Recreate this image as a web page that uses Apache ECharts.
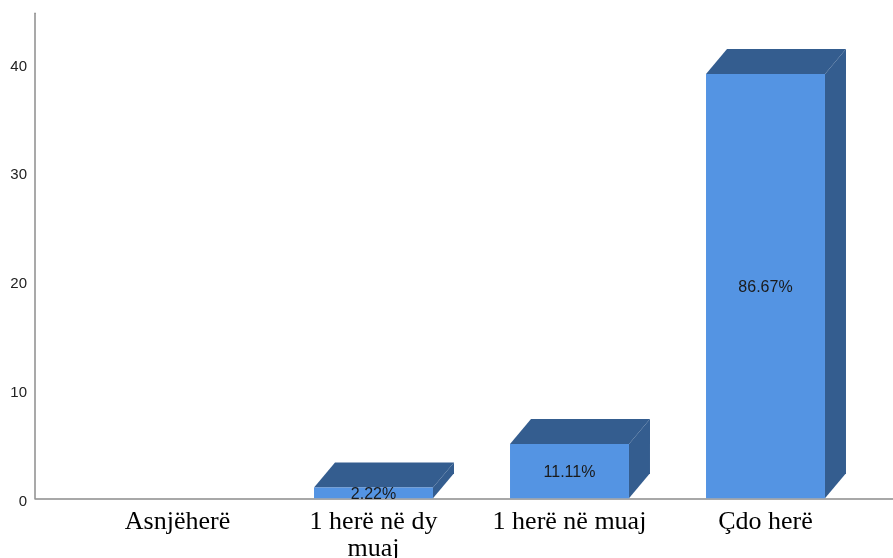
<!DOCTYPE html>
<html>
<head>
<meta charset="utf-8">
<script src="https://cdn.jsdelivr.net/npm/echarts@6/dist/echarts.min.js"></script>
<style>
html,body{margin:0;padding:0;background:#fff;}
#chart{width:893px;height:558px;}
</style>
</head>
<body>
<div id="chart"></div>
<script>
const categories = ['Asnjëherë', '1 herë në dy\nmuaj', '1 herë në muaj', 'Çdo herë'];
const counts = [0, 1, 5, 39];
const percentLabels = ['', '2.22%', '11.11%', '86.67%'];
const yTicks = [0, 10, 20, 30, 40];

const FRONT = '#5494e3';
const DARK = '#345d8f';
const DX = 21, DY = 25;
const YMAX = 44.57;

const chart = echarts.init(document.getElementById('chart'), null, {renderer: 'canvas'});

const seriesData = categories.map((c, i) => [i, counts[i], percentLabels[i]]);

const option = {
  backgroundColor: '#ffffff',
  animation: false,
  grid: [
    {left: 35, right: 0, top: 13.3, bottom: 59.7, containLabel: false, outerBoundsMode: 'none'},
    {left: 79.5, right: 29.5, top: 13.3, bottom: 59.7, containLabel: false, outerBoundsMode: 'none'}
  ],
  xAxis: [
    {
      gridIndex: 0, type: 'value', min: 0, max: 1,
      axisLine: {show: true, onZero: false, lineStyle: {color: '#8c8c8c', width: 1.5}},
      axisTick: {show: false}, axisLabel: {show: false}, splitLine: {show: false}
    },
    {
      gridIndex: 1, type: 'category', data: categories,
      axisLine: {show: false}, axisTick: {show: false}, splitLine: {show: false},
      axisLabel: {
        interval: 0, margin: 10,
        fontFamily: '"Liberation Serif", "Times New Roman", serif',
        fontSize: 26, lineHeight: 27, color: '#000'
      }
    }
  ],
  yAxis: [
    {
      gridIndex: 0, type: 'value', min: 0, max: YMAX, interval: 10,
      axisLine: {show: true, lineStyle: {color: '#8c8c8c', width: 1.5}},
      axisTick: {show: false}, splitLine: {show: false},
      axisLabel: {
        margin: 8, fontSize: 15, color: '#222',
        fontFamily: '"Liberation Sans", Arial, sans-serif',
        verticalAlign: 'top', lineHeight: 15, padding: [-4, 0, 0, 0],
        formatter: v => (yTicks.indexOf(v) >= 0 ? String(v) : '')
      }
    },
    {
      gridIndex: 1, type: 'value', min: 0, max: YMAX, interval: 10, show: false
    }
  ],
  series: [{
    type: 'custom',
    xAxisIndex: 1, yAxisIndex: 1,
    data: seriesData,
    z: 1,
    renderItem: function (params, api) {
      const val = api.value(1);
      if (!val) return null;
      const top = api.coord([api.value(0), val]);
      const base = api.coord([api.value(0), 0]);
      const w = api.size([1, 0])[0] * 0.607;
      const l = top[0] - w / 2, r = top[0] + w / 2;
      const t = top[1], b = base[1];
      const label = seriesData[params.dataIndex][2];
      return {
        type: 'group',
        children: [
          {type: 'polygon', shape: {points: [[l, t], [l + DX, t - DY], [r + DX, t - DY], [r, t]]}, style: {fill: DARK}},
          {type: 'polygon', shape: {points: [[r, t], [r + DX, t - DY], [r + DX, b - DY], [r, b]]}, style: {fill: DARK}},
          {type: 'rect', shape: {x: l, y: t, width: w, height: b - t}, style: {fill: FRONT}},
          {type: 'text', x: top[0], y: (t + b) / 2 + 1.5, style: {
            text: label, align: 'center', verticalAlign: 'middle',
            fontSize: 16, fontFamily: '"Liberation Sans", Arial, sans-serif', fill: '#1a1a1a'
          }}
        ]
      };
    }
  }]
};
chart.setOption(option);
</script>
</body>
</html>
